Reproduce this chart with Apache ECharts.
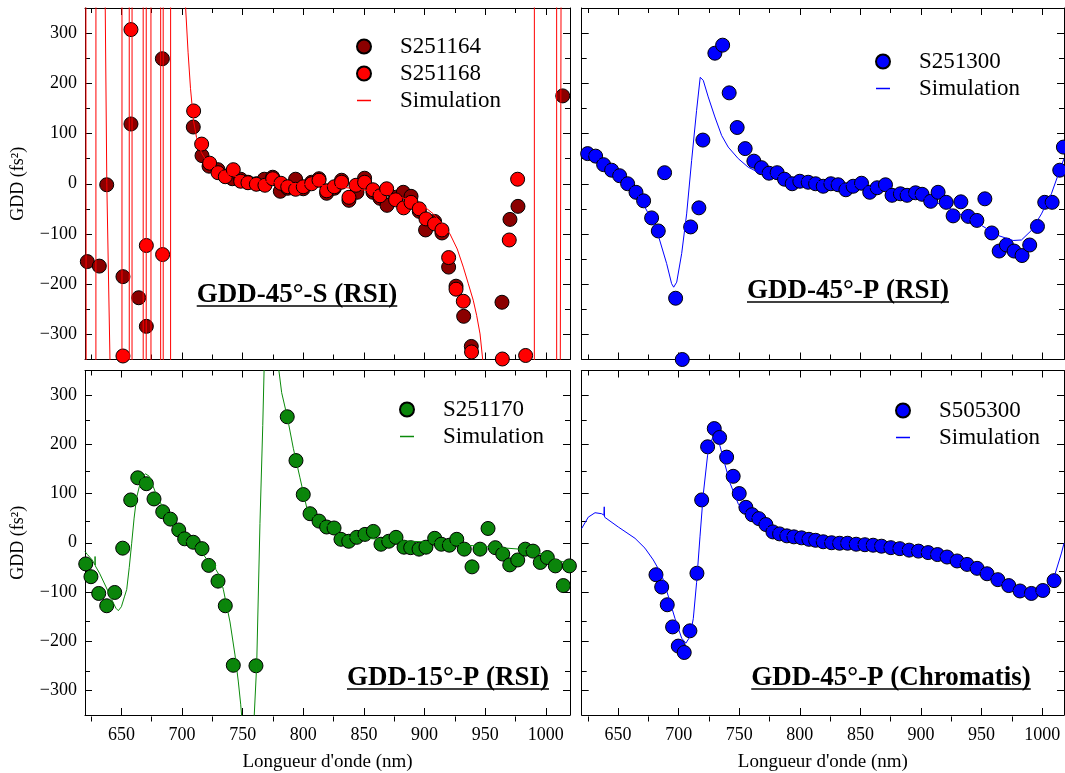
<!DOCTYPE html>
<html><head><meta charset="utf-8">
<script src="https://cdn.jsdelivr.net/npm/echarts@6/dist/echarts.min.js"></script>
<style>html,body{margin:0;padding:0;background:#fff}#c{width:1065px;height:773px}</style>
</head><body><div id="c"></div>
<script>
// ---------------- data ----------------
const xMajorTicks = [650,700,750,800,850,900,950,1000];
const xMinorTicks = [625,675,725,775,825,875,925,975];
const yMajorTicks = [-300,-200,-100,0,100,200,300];
const yMinorTicks = [-250,-150,-50,50,150,250];

const titles = ['GDD-45°-S (RSI)','GDD-45°-P (RSI)','GDD-15°-P (RSI)','GDD-45°-P (Chromatis)'];
const xName = "Longueur d'onde (nm)";
const yName = 'GDD (fs²)';

// Panel 1 : GDD-45°-S (RSI)
const s251164 = [[621.9,-155],[631.8,-164],[637.9,-2],[651.3,-185],[657.9,119],[664.3,-227],[670.6,-284],[683.8,249],
 [709.3,113],[716.5,56],[722.3,35],[729.7,28],[735.7,15],[741.5,10],[748.4,9],[754.4,3],[761.3,0],[767.9,9],[774.8,13],
 [781.1,-15],[787.2,-9],[793.7,9],[800,-10],[806.9,3],[813,10],[819.3,-19],[825.6,-9],[831.6,7],[837.7,-33],[844.3,-17],
 [850.6,11],[857.5,-17],[863.3,-29],[869.1,-43],[876.2,-27],[882.5,-17],[888.9,-25],[895.7,-55],[900.9,-92],[908.3,-75],
 [914.4,-98],[919.9,-166],[926,-204],[932.3,-264],[938.6,-324],[963.9,-236],[970.5,-71],[977.1,-45],[1014,175]];
const s251168 = [[651.3,-343],[657.9,307],[670.6,-123],[684,-141],[709.6,145],[716.2,79],[722.8,41],[729.7,22],[735.7,14],
 [742.3,28],[748.4,5],[754.4,2],[761.3,-1],[768.4,-3],[774.8,10],[781.6,1],[787.2,-6],[793.7,-11],[800,-6],[806.9,0],
 [813,7],[819.3,-14],[825.6,-6],[831.6,3],[837.7,-27],[843.5,-3],[850.6,3],[857.5,-12],[863.3,-24],[868.8,-10],
 [876.2,-32],[882.8,-48],[888.9,-37],[895.7,-50],[901.2,-70],[908.3,-80],[914.4,-92],[919.9,-147],[926,-210],[932,-234],
 [938.8,-335],[964.2,-349],[969.9,-112],[976.8,9],[983.4,-342]];
const simS45 = [[620,3000],[621.5,3000],[621.7,-3000],[628.9,-3000],[629.1,3000],[636.4,3000],[636.7,350],[638,0],
 [640.6,-350],[641,-3000],[650.4,-3000],[650.6,3000],[656.4,3000],[656.6,-3000],[658.7,-3000],[658.9,3000],
 [667.9,3000],[668.1,-3000],[670.4,-3000],[670.6,3000],[674.3,3000],[674.5,-3000],[682.3,-3000],[682.5,3000],
 [684.4,3000],[684.6,-3000],[690.5,-3000],[690.7,3000],[702.5,3000],[703,350],[705,262],[707,190],[709.5,125],
 [712,92],[716,62],[720,46],[730,28],[740,17],[750,11],[760,6],[780,2],[800,-1],[820,-4],[840,-9],[860,-16],
 [875,-24],[888,-32],[900,-46],[907.3,-60],[914,-78],[921,-100],[927,-130],[932,-166],[936,-198],[940.2,-232],
 [943,-262],[945.8,-299],[948,-350],[950,-3000],[990.5,-3000],[990.7,3000],[1008.9,3000],[1009.1,-3000],
 [1011.5,-3000],[1012,-350],[1012.6,350],[1013,3000],[1020,3000]];

// Panel 2 : GDD-45°-P (RSI)
const s251300 = [[624.9,60],[631.5,55],[638.1,38],[644.7,27],[651.3,16],[657.9,0],[664.8,-17],[671.1,-34],[677.7,-68],
 [683.2,-94],[688.4,22],[697.5,-228],[703,-350],[709.9,-86],[716.7,-48],[720,87],[729.9,260],[736.3,276],[741.7,181],
 [748.3,112],[754.9,70],[762.1,45],[768.4,32],[774.6,21],[781.3,22],[787.4,9],[793.7,0],[800,5],[806.9,3],[813,0],
 [819.3,-5],[825.6,0],[831.6,-2],[838,-12],[844,-5],[850.9,1],[857.7,-17],[863.8,-8],[870.7,-2],[876.1,-23],[883,-20],
 [888.5,-23],[895.5,-18],[900.9,-21],[908,-35],[914.1,-17],[920.8,-37],[926.5,-64],[932.9,-36],[939,-65],[946.1,-73],
 [952.7,-30],[958.4,-98],[964.5,-134],[970.5,-122],[976.8,-134],[983.4,-143],[989.7,-122],[996.1,-85],[1002.1,-37],
 [1008.2,-37],[1014.5,27],[1017.5,73]];
const simP45 = [[620,63],[625,58],[632,52],[638,40],[645,27],[652,14],[658,1],[664,-14],[671.1,-42],[677,-68],[683.2,-103],
 [690.1,-159],[694.2,-199],[695.9,-206],[698.4,-196],[702.5,-139],[706.6,-60],[710.7,46],[714.8,146],[717.8,212],
 [720.3,206],[724.4,173],[729.9,133],[735.5,96],[740.9,73],[749.2,50],[757.4,33],[765.6,23],[780,15],[800,8],[820,3],
 [840,-2],[860,-8],[880,-15],[900,-26],[910,-35],[922.4,-47],[936.1,-66],[949.9,-83],[963.6,-103],[976,-113],
 [982.9,-112],[991.1,-93],[999.4,-60],[1007.6,-20],[1014.5,27],[1018,50]];

// Panel 3 : GDD-15°-P (RSI)
const s251170 = [[620.6,-43],[624.9,-69],[631.3,-103],[637.9,-128],[644.5,-101],[651.1,-11],[657.7,87],[663.5,132],
 [670.6,120],[676.9,89],[684.1,63],[690.4,48],[697.3,26],[702.2,8],[709.3,1],[716.5,-12],[722,-46],[729.7,-78],
 [735.7,-128],[742.3,-249],[761,-250],[786.8,256],[794,167],[800,98],[805.6,59],[813,44],[819.3,32],[825.4,30],
 [831.1,7],[837.5,3],[844.1,11],[850.9,17],[857.8,23],[864.1,-3],[870.5,3],[876.5,11],[883.1,-9],[888.6,-10],
 [895.5,-13],[901.2,-9],[908.4,9],[913.9,-3],[920.5,-5],[926.6,7],[932.8,-13],[939.2,-49],[945.8,-13],[952.4,29],
 [958.4,-10],[964.5,-23],[970.3,-45],[976.9,-35],[983.1,-13],[989.5,-17],[995.5,-40],[1001.3,-30],[1007.9,-47],
 [1014.5,-87],[1019.5,-47]];
const simP15 = [[620,-18],[622,-24],[626,-35],[628.2,-45],[628.3,-28],[628.5,-47],[632,-62],[637,-88],[642,-115],
 [645.5,-133],[647.5,-138],[650,-130],[652.5,-110],[654.4,-95],[656.5,-50],[658.5,-1],[660.5,50],[662.6,92],
 [665.9,125],[668,136],[670,140],[673,135],[677.7,105],[684.6,69],[692.9,35],[703.9,2],[714.8,-15],[720,-32],
 [723.1,-45],[727,-52],[727.4,-42],[727.8,-54],[731,-67],[734.1,-95],[739.6,-161],[743.7,-228],[746.4,-281],
 [748.4,-328],[749.5,-360],[752,-700],[754,-1000],[757,-700],[759.4,-360],[761.6,-248],[764.3,39],[766.6,238],
 [767.8,360],[770,700],[773,1000],[776,700],[779.4,360],[782.2,305],[786.8,256],[791.8,192],[797.3,132],[802.8,72],
 [811.1,45],[822,32],[833,12],[852.3,9],[879.8,4],[907.3,1],[934.8,-5],[962.3,-10],[989.7,-15],[1006.2,-33],[1020,-43]];

// Panel 4 : GDD-45°-P (Chromatis)
const s505300 = [[681.3,-65],[686,-90],[690.6,-126],[695,-171],[699.7,-210],[704.6,-223],[709.3,-179],[715.1,-62],
 [719,87],[723.9,195],[729.4,232],[733.8,214],[739.6,174],[745,135],[750,100],[755.5,72],[760.7,57],[766.2,49],
 [772,37],[777.8,22],[783.3,18],[789.3,14],[795.1,12],[801.4,10],[807.5,7],[813,5],[819.3,2],[826.2,0],[832.8,-1],
 [839.4,-1],[846.5,-3],[853.7,-4],[860.5,-5],[867.4,-7],[875.1,-10],[882.5,-12],[890.2,-15],[897.9,-17],[905.9,-20],
 [913.6,-24],[921.5,-29],[929.8,-37],[938,-44],[946.3,-52],[954.5,-63],[963.4,-75],[972.4,-87],[981.7,-98],
 [991.1,-103],[1000.5,-97],[1009.8,-77]];
const simChrom = [[620,29],[625.4,52],[631,61],[636.5,59],[638.3,56],[638.6,73],[638.9,52],[650.2,32],[664,9],
 [672.2,-11],[679.1,-35],[686,-65],[691.4,-108],[697,-154],[702.5,-194],[706,-204],[709.3,-191],[712.1,-154],
 [714.8,-81],[717.6,12],[720.3,98],[723.9,178],[727.7,212],[730.5,214],[733.2,205],[736.8,172],[742.3,122],
 [749.2,79],[757.4,55],[766,45],[775,28],[785,17],[800,10],[820,3],[840,-2],[860,-6],[880,-12],[900,-19],[920,-29],
 [940,-47],[955,-65],[970,-88],[980,-102],[988.4,-108],[995,-102],[1002,-90],[1009.8,-70],[1015.9,-21],[1018,-1]];

// ---------------- layout & style ----------------
const FONT = '"Liberation Serif","Times New Roman",serif';
const panels = [
  {rect:{left:85, top:8, width:485, height:351.5}, xmax:1020, xLab:false, yLab:true,
   series:[{name:'S251164', type:'scatter', data:s251164, color:'#8b0000'},
           {name:'S251168', type:'scatter', data:s251168, color:'#ff0000'},
           {name:'Simulation#0', type:'line', data:simS45, color:'#ff0000'}],
   legend:{left:333, top:35}, title:{x:297, y:295}},
  {rect:{left:581.7, top:8, width:482.3, height:351.5}, xmax:1018, xLab:false, yLab:false,
   series:[{name:'S251300', type:'scatter', data:s251300, color:'#0000ff'},
           {name:'Simulation#1', type:'line', data:simP45, color:'#0000ff'}],
   legend:{left:852, top:50}, title:{x:848, y:291}},
  {rect:{left:85, top:370.5, width:485, height:351}, xmax:1020, xLab:true, yLab:true,
   series:[{name:'S251170', type:'scatter', data:s251170, color:'#0b850b'},
           {name:'Simulation#2', type:'line', data:simP15, color:'#0b8a0b'}],
   legend:{left:376, top:398}, title:{x:448, y:678}},
  {rect:{left:581.7, top:370.5, width:482.3, height:351}, xmax:1018, xLab:true, yLab:false,
   series:[{name:'S505300', type:'scatter', data:s505300, color:'#0000ff'},
           {name:'Simulation#3', type:'line', data:simChrom, color:'#0000ff'}],
   legend:{left:872, top:399}, title:{x:891, y:678}}
];

const grid = [], xAxis = [], yAxis = [], series = [], legend = [], graphic = [];
const minusFmt = v => String(v).replace('-', '\u2212');
const plainFmt = v => String(v);
const LINE_ICON = 'path://M0,0M62,14M24,6.25H38V7.75H24Z';

panels.forEach(p => grid.push(Object.assign({show:false, containLabel:false}, p.rect)));
panels.forEach(p => grid.push(Object.assign({show:false, containLabel:false}, p.rect)));

function xAx(gi, pos, ticks, len, max, labels, name, showLine) {
  const a = {type:'value', gridIndex:gi, position:pos, min:620, max:max,
    axisLine:{show:showLine, onZero:false, lineStyle:{color:'#000', width:1}},
    axisTick:{show:true, inside:true, length:len, customValues:ticks, lineStyle:{color:'#000', width:1}},
    axisLabel:{show:labels, customValues:ticks, formatter:plainFmt, color:'#000', fontFamily:FONT, fontSize:18, margin:11},
    splitLine:{show:false}};
  if (name) Object.assign(a, {name:name, nameLocation:'middle', nameGap:38,
    nameTextStyle:{color:'#000', fontFamily:FONT, fontSize:19}});
  return a;
}
function yAx(gi, pos, ticks, len, labels, name, showLine) {
  const a = {type:'value', gridIndex:gi, position:pos, min:-350, max:350,
    axisLine:{show:showLine, onZero:false, lineStyle:{color:'#000', width:1}},
    axisTick:{show:true, inside:true, length:len, customValues:ticks, lineStyle:{color:'#000', width:1}},
    axisLabel:{show:labels, customValues:ticks, formatter:minusFmt, color:'#000', fontFamily:FONT, fontSize:18, margin:8},
    splitLine:{show:false}};
  if (name) Object.assign(a, {name:name, nameLocation:'middle', nameGap:58, nameRotate:90,
    nameTextStyle:{color:'#000', fontFamily:FONT, fontSize:18}});
  return a;
}

panels.forEach((p, i) => {
  xAxis.push(xAx(i, 'bottom', xMajorTicks, 7, p.xmax, p.xLab, p.xLab ? xName : null, true));
  xAxis.push(xAx(i, 'top', xMajorTicks, 7, p.xmax, false, null, true));
  xAxis.push(xAx(4 + i, 'bottom', xMinorTicks, 5, p.xmax, false, null, false));
  xAxis.push(xAx(4 + i, 'top', xMinorTicks, 5, p.xmax, false, null, false));
  yAxis.push(yAx(i, 'left', yMajorTicks, 7, p.yLab, p.yLab ? yName : null, true));
  yAxis.push(yAx(i, 'right', yMajorTicks, 7, false, null, true));
  yAxis.push(yAx(4 + i, 'left', yMinorTicks, 5, false, null, false));
  yAxis.push(yAx(4 + i, 'right', yMinorTicks, 5, false, null, false));

  const names = [];
  p.series.forEach(s => {
    if (s.type === 'scatter') {
      series.push({type:'scatter', name:s.name, xAxisIndex:4*i, yAxisIndex:4*i, data:s.data,
        symbol:'circle', symbolSize:14, z:3,
        itemStyle:{color:s.color, borderColor:'#000', borderWidth:1, opacity:1}});
      names.push({name:s.name, icon:'circle'});
    } else {
      series.push({type:'line', name:s.name, xAxisIndex:4*i, yAxisIndex:4*i, data:s.data,
        symbol:'none', showSymbol:false, z:4, clip:true, smooth:false,
        lineStyle:{color:s.color, width:1}, itemStyle:{color:s.color}});
      names.push({name:s.name, icon:LINE_ICON, itemStyle:{color:s.color, borderWidth:0}});
    }
  });
  legend.push({data:names, orient:'vertical', left:p.legend.left, top:p.legend.top, padding:0,
    itemWidth:62, itemHeight:14, itemGap:4, selectedMode:false,
    formatter: n => n.split('#')[0],
    textStyle:{color:'#000', fontFamily:FONT, fontSize:23, lineHeight:23}});

  const font = 'bold 27px ' + FONT;
  const ctx = document.createElement('canvas').getContext('2d');
  ctx.font = font;
  const w = ctx.measureText(titles[i]).width;
  graphic.push({type:'text', x:p.title.x, y:p.title.y, z:10,
    style:{text:titles[i], font:font, fill:'#000', align:'center', verticalAlign:'middle'}});
  graphic.push({type:'line', z:10, shape:{x1:p.title.x - w/2, y1:p.title.y + 11, x2:p.title.x + w/2, y2:p.title.y + 11},
    style:{stroke:'#000', lineWidth:1.6}});
});

const chart = echarts.init(document.getElementById('c'), null, {renderer:'canvas'});
chart.setOption({animation:false, backgroundColor:'#fff', grid, xAxis, yAxis, series, legend, graphic});
</script>
</body></html>
